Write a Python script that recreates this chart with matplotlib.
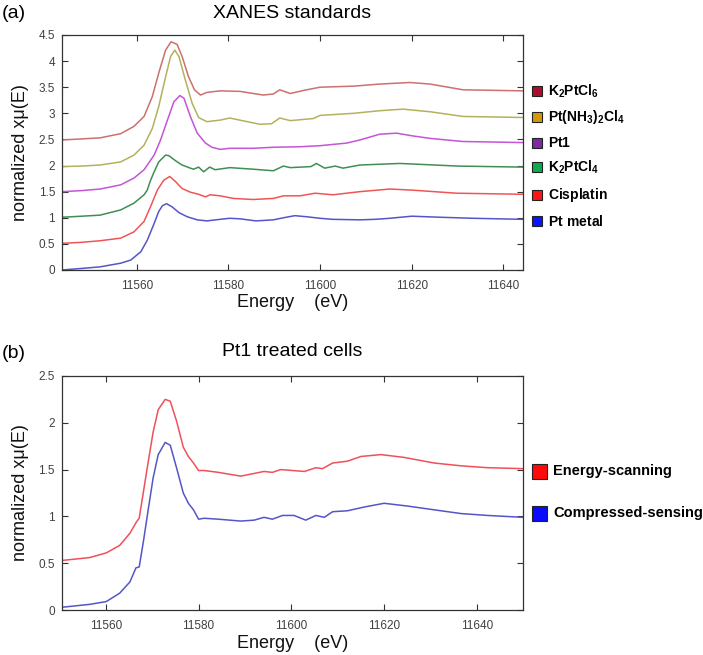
import matplotlib
matplotlib.use('Agg')
import matplotlib.pyplot as plt
from matplotlib.patches import Rectangle
from matplotlib.ticker import FormatStrFormatter, MultipleLocator

plt.rcParams['font.family'] = ['Liberation Sans', 'DejaVu Sans']
plt.rcParams['mathtext.fontset'] = 'custom'
plt.rcParams['mathtext.rm'] = 'Liberation Sans'
plt.rcParams['mathtext.bf'] = 'Liberation Sans:bold'

# ---- panel (a): XANES standards (energy in eV, normalized absorption) ----
pt_metal_e = [11543.7, 11548, 11552, 11556.5, 11558.7, 11560.9, 11562.3, 11563.8, 11564.8, 11565.6,
              11566.5, 11567.7, 11569.2, 11571, 11573.2, 11575.3, 11578.2, 11580.3, 11582.5, 11586,
              11589.8, 11592, 11594.5, 11597, 11600, 11602.8, 11608.7, 11612, 11615.2, 11620,
              11626.2, 11633.4, 11644.2]
pt_metal_v = [0.00, 0.03, 0.06, 0.13, 0.19, 0.35, 0.57, 0.89, 1.12, 1.23,
              1.27, 1.21, 1.10, 1.02, 0.96, 0.94, 0.97, 0.99, 0.98, 0.94,
              0.96, 1.00, 1.04, 1.02, 0.99, 0.97, 0.96, 0.97, 0.99, 1.03,
              1.01, 0.99, 0.97]

cisplatin_e = [11543.7, 11548, 11552, 11556.5, 11559.4, 11561.6, 11563, 11564.5, 11565.9, 11567.2,
               11568.5, 11569.9, 11571.7, 11573.5, 11575, 11576, 11578.2, 11581.1, 11585.4, 11589.8,
               11592, 11595.6, 11598.9, 11602.8, 11608.7, 11615.2, 11620, 11629.8, 11644.2]
cisplatin_v = [0.51, 0.53, 0.56, 0.61, 0.73, 0.93, 1.21, 1.53, 1.72, 1.79,
               1.69, 1.56, 1.49, 1.45, 1.40, 1.44, 1.42, 1.37, 1.35, 1.37,
               1.42, 1.42, 1.47, 1.44, 1.50, 1.55, 1.53, 1.47, 1.45]

k2ptcl4_e = [11543.7, 11548, 11552, 11556.5, 11559.4, 11561.6, 11562.3, 11562.9, 11563.8, 11564.8,
             11566.3, 11567, 11568.5, 11569.9, 11571.7, 11572.4, 11573.5, 11574.6, 11575.9, 11577.1,
             11580.3, 11585.4, 11589.8, 11592, 11593.5, 11598, 11599.2, 11601, 11603.3, 11605,
             11608.7, 11617.4, 11620, 11630, 11644.2]
k2ptcl4_v = [1.01, 1.03, 1.05, 1.15, 1.28, 1.44, 1.53, 1.69, 1.88, 2.07,
             2.20, 2.19, 2.09, 2.01, 1.95, 1.93, 1.97, 1.88, 1.97, 1.92,
             1.96, 1.93, 1.90, 1.99, 1.96, 1.98, 2.04, 1.95, 1.99, 1.95,
             2.01, 2.04, 2.03, 1.99, 1.97]

pt1_e = [11543.7, 11548, 11552, 11556.5, 11559.4, 11561.6, 11563.8, 11565.2, 11566.7, 11568.1,
         11569.4, 11570.3, 11571.7, 11573.2, 11575, 11576.4, 11578.2, 11580.3, 11585.4, 11589.8,
         11595.6, 11600, 11605.8, 11608.7, 11613, 11616.7, 11620, 11624, 11631.2, 11644.2]
pt1_v = [1.50, 1.52, 1.55, 1.63, 1.76, 1.92, 2.20, 2.49, 2.87, 3.22,
         3.34, 3.29, 2.94, 2.62, 2.43, 2.35, 2.31, 2.33, 2.33, 2.35,
         2.36, 2.38, 2.43, 2.49, 2.60, 2.62, 2.57, 2.52, 2.46, 2.44]

ptnh3_e = [11543.7, 11548, 11552, 11556.5, 11559.4, 11561.6, 11563.4, 11564.8, 11566.3, 11567.4,
           11568.3, 11569.2, 11570.6, 11572.1, 11573.5, 11575.3, 11578.2, 11580.3, 11583, 11586.9,
           11589.4, 11591.2, 11593.5, 11598.5, 11600, 11607.3, 11613, 11618.1, 11624, 11631.2,
           11644.2]
ptnh3_v = [1.98, 1.99, 2.01, 2.07, 2.20, 2.39, 2.71, 3.13, 3.70, 4.09,
           4.21, 4.09, 3.64, 3.19, 2.92, 2.84, 2.87, 2.91, 2.86, 2.79,
           2.80, 2.91, 2.86, 2.90, 2.96, 3.00, 3.05, 3.08, 3.03, 2.94,
           2.92]

k2ptcl6_e = [11543.7, 11548, 11552, 11556.5, 11559.4, 11561.6, 11563.4, 11564.8, 11566.3, 11567.5,
             11568.8, 11569.9, 11571.3, 11572.6, 11573.9, 11575.3, 11578.2, 11582.5, 11587.6, 11589.8,
             11591.2, 11593.5, 11596.5, 11600, 11607.3, 11613, 11619.6, 11624, 11631.2, 11644.2]
k2ptcl6_v = [2.49, 2.51, 2.53, 2.61, 2.75, 2.94, 3.32, 3.77, 4.21, 4.37,
             4.32, 4.09, 3.70, 3.45, 3.35, 3.40, 3.43, 3.42, 3.35, 3.37,
             3.45, 3.38, 3.44, 3.50, 3.52, 3.56, 3.59, 3.56, 3.45, 3.43]

# ---- panel (b): Pt1 treated cells ----
escan_e = [11550.7, 11556.5, 11560.1, 11563, 11565.2, 11566.6, 11567.2, 11568.1, 11569.2, 11570.2,
           11571.3, 11572.8, 11573.9, 11575.3, 11576.7, 11577.8, 11578.9, 11580, 11581.2, 11584.3,
           11589.1, 11594.1, 11595.9, 11597.7, 11602.8, 11605.3, 11606.7, 11608.9, 11612.1, 11615,
           11619.3, 11624.3, 11630.8, 11636.6, 11642.3, 11649.9]
escan_v = [0.53, 0.56, 0.61, 0.69, 0.82, 0.94, 0.98, 1.26, 1.60, 1.90,
           2.14, 2.25, 2.23, 2.01, 1.74, 1.64, 1.57, 1.49, 1.49, 1.47,
           1.43, 1.48, 1.47, 1.50, 1.48, 1.52, 1.51, 1.57, 1.59, 1.64,
           1.66, 1.63, 1.57, 1.54, 1.52, 1.51]

csens_e = [11550.7, 11556.5, 11560.1, 11563, 11565.2, 11566.5, 11567.2, 11568.1, 11569.2, 11570.2,
           11571.3, 11572.8, 11573.9, 11575.3, 11576.7, 11577.8, 11578.9, 11580, 11581.2, 11584.3,
           11589.1, 11592, 11594.1, 11595.9, 11598.1, 11600.6, 11603.1, 11605.3, 11607.1, 11608.9,
           11612.1, 11615.7, 11620, 11625.1, 11630.8, 11636.6, 11642.3, 11649.9]
csens_v = [0.03, 0.06, 0.09, 0.18, 0.30, 0.45, 0.46, 0.73, 1.09, 1.41,
           1.66, 1.79, 1.76, 1.51, 1.25, 1.14, 1.07, 0.97, 0.98, 0.97,
           0.95, 0.96, 0.99, 0.97, 1.01, 1.01, 0.96, 1.01, 0.99, 1.05,
           1.06, 1.10, 1.14, 1.11, 1.07, 1.03, 1.01, 0.99]

labels_a = [r'$\mathbf{K_2PtCl_6}$', r'$\mathbf{Pt(NH_3)_2Cl_4}$', r'$\mathbf{Pt1}$',
            r'$\mathbf{K_2PtCl_4}$', r'$\mathbf{Cisplatin}$', r'$\mathbf{Pt\ metal}$']
labels_b = ['Energy-scanning', 'Compressed-sensing']

series_a = [(k2ptcl6_e, k2ptcl6_v), (ptnh3_e, ptnh3_v), (pt1_e, pt1_v),
            (k2ptcl4_e, k2ptcl4_v), (cisplatin_e, cisplatin_v), (pt_metal_e, pt_metal_v)]
series_b = [(escan_e, escan_v), (csens_e, csens_v)]

line_colors_a = ['#cc7070', '#b2b25c', '#c455d6', '#3f8f55', '#f05555', '#5555c8']
box_colors_a = ['#a8102c', '#d49810', '#7c2ca0', '#10a850', '#ff1515', '#0a14ff']
line_colors_b = ['#f0505a', '#5555c8']
box_colors_b = ['#ff0a0a', '#0a0aff']

fig = plt.figure(figsize=(7.03, 6.55), dpi=100)
ax1 = fig.add_axes([0.0882, 0.5878, 0.6553, 0.3588])
ax2 = fig.add_axes([0.0878, 0.0687, 0.6566, 0.3573])

for (e, v), c in zip(series_a, line_colors_a):
    ax1.plot(e, v, color=c, lw=1.1)
for (e, v), c in zip(series_b, line_colors_b):
    ax2.plot(e, v, color=c, lw=1.1)

ax1.set_xlim(11543.7, 11644.2)
ax1.set_ylim(0, 4.5)
ax2.set_xlim(11550.5, 11650)
ax2.set_ylim(0, 2.5)

for ax in (ax1, ax2):
    ax.xaxis.set_major_locator(MultipleLocator(20))
    ax.yaxis.set_major_locator(MultipleLocator(0.5))
    ax.yaxis.set_major_formatter(FormatStrFormatter('%g'))
    ax.tick_params(direction='in', top=True, right=True, length=4, width=0.8,
                   labelsize=8.5, labelcolor='#404040', color='#333333')
    ax.tick_params(axis='x', pad=7)
    ax.tick_params(axis='y', pad=5)
    for s in ax.spines.values():
        s.set_color('#333333')
        s.set_linewidth(0.9)
    ax.set_xlabel('Energy    (eV)', fontsize=13, labelpad=2, color='#111111')
    ax.set_ylabel('normalized xμ(E)', fontsize=13, labelpad=7, color='#111111')

W, H = 703, 655
fig.text(292 / W, 1 - 14 / H, 'XANES standards', fontsize=14, ha='center', va='center')
fig.text(2 / W, 1 - 14 / H, '(a)', fontsize=14, ha='left', va='center')
fig.text(292 / W, 1 - 352 / H, 'Pt1 treated cells', fontsize=14, ha='center', va='center')
fig.text(2 / W, 1 - 353 / H, '(b)', fontsize=14, ha='left', va='center')

# legend (a): small squares with bold labels
ys_a = [91, 117, 143, 167, 195, 221]
for y, lab, c in zip(ys_a, labels_a, box_colors_a):
    fig.add_artist(Rectangle((532 / W, 1 - (y + 5) / H), 10 / W, 10 / H,
                             facecolor=c, edgecolor='#222222', lw=0.8, transform=fig.transFigure))
    fig.text(548 / W, 1 - y / H, lab, fontsize=10, ha='left', va='center')

ys_b = [471, 513]
for y, lab, c in zip(ys_b, labels_b, box_colors_b):
    fig.add_artist(Rectangle((532 / W, 1 - (y + 7.5) / H), 15 / W, 15 / H,
                             facecolor=c, edgecolor='#222222', lw=0.8, transform=fig.transFigure))
    fig.text(553 / W, 1 - y / H, lab, fontsize=10.5, fontweight='bold', ha='left', va='center')

fig.savefig('out.png', dpi=100)
